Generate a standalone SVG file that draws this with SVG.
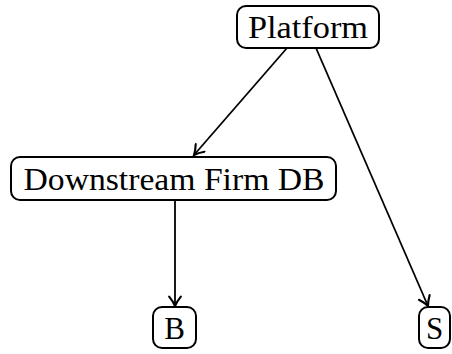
<svg xmlns="http://www.w3.org/2000/svg" width="452" height="354" viewBox="0 0 452 354">
<style>
.box{fill:#fff;stroke:#000;stroke-width:2}
.lbl{font-family:'Liberation Serif','DejaVu Serif',serif;font-size:31px;fill:#000;text-anchor:middle}
.edge{fill:none;stroke:#000;stroke-width:1.8}
</style>
<defs>
<marker id="arr" markerWidth="14" markerHeight="14" viewBox="-9 -6 11 12" refX="0" refY="0" orient="auto" markerUnits="userSpaceOnUse">
<path d="M-8,-5 C-4.5,-2.2 -1.7,-0.7 0,0 C-1.7,0.7 -4.5,2.2 -8,5" fill="none" stroke="#000" stroke-width="1.8" stroke-linecap="round"/>
</marker>
</defs>
<g id="connectors">
<line class="edge" x1="287" y1="48" x2="194" y2="155" marker-end="url(#arr)"/>
<line class="edge" x1="316" y1="48" x2="428" y2="306" marker-end="url(#arr)"/>
<line class="edge" x1="175" y1="200" x2="175" y2="306" marker-end="url(#arr)"/>
</g>
<g id="platform">
<rect class="box" x="237" y="6" width="142" height="42" rx="9"/>
<text class="lbl" font-family="Liberation Serif" x="308" y="38" textLength="120" lengthAdjust="spacingAndGlyphs">Platform</text>
</g>
<g id="downstream">
<rect class="box" x="11" y="157" width="325" height="43" rx="9"/>
<text class="lbl" font-family="Liberation Serif" x="174" y="189.5" textLength="301" lengthAdjust="spacingAndGlyphs">Downstream Firm DB</text>
</g>
<g id="b">
<rect class="box" x="153" y="307" width="43" height="41" rx="9"/>
<text class="lbl" font-family="Liberation Serif" x="174.5" y="339">B</text>
</g>
<g id="s">
<rect class="box" x="419" y="307" width="31" height="41" rx="9"/>
<text class="lbl" font-family="Liberation Serif" x="434.5" y="339">S</text>
</g>
</svg>
